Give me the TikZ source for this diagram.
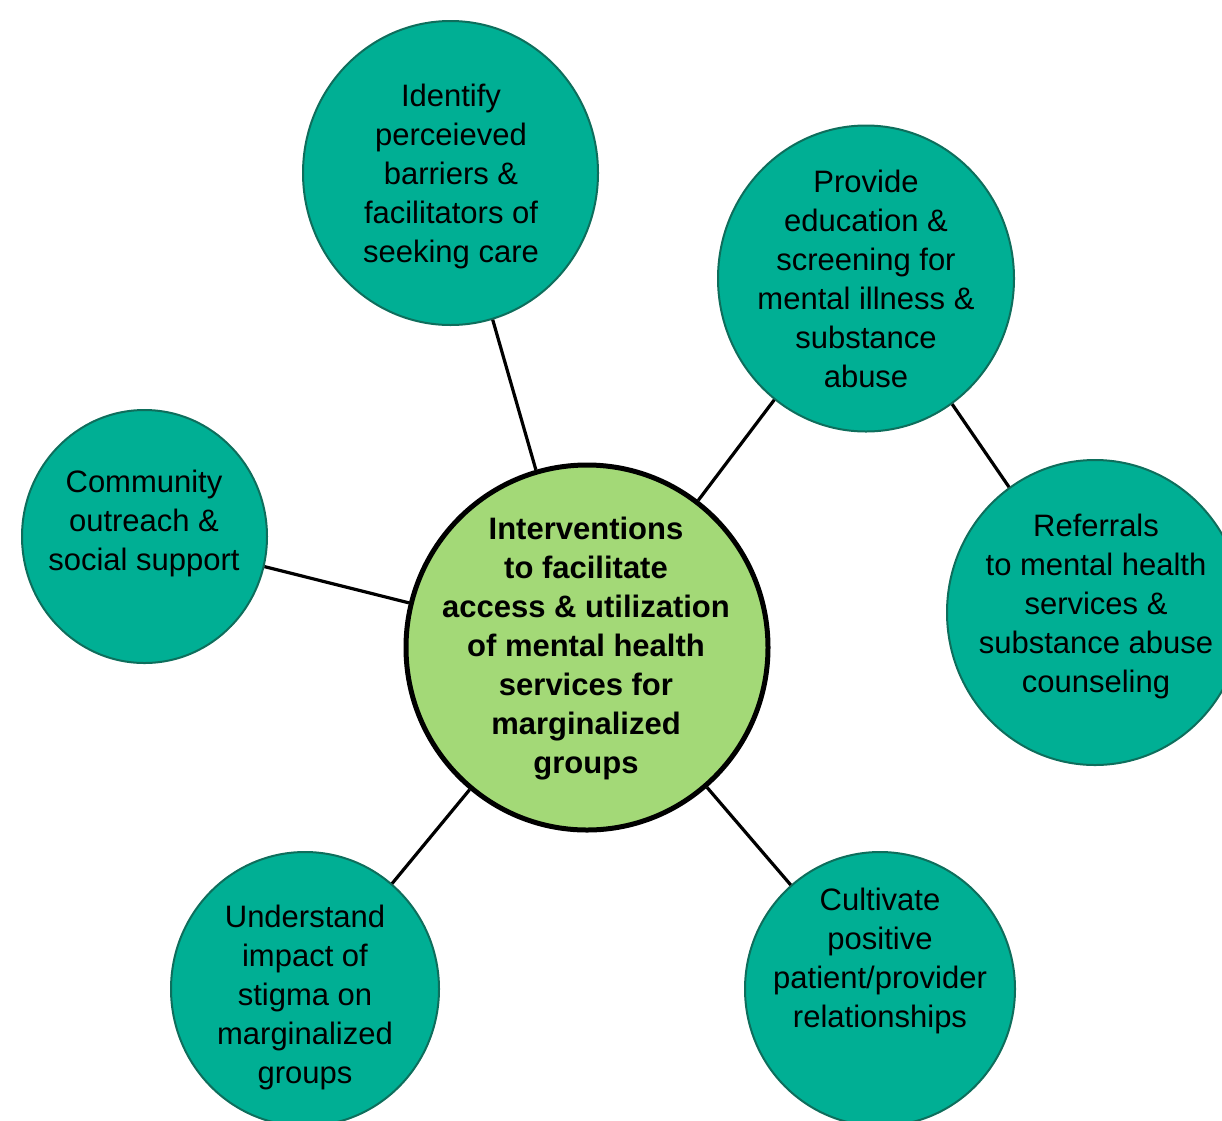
\documentclass[tikz,border=0pt]{standalone}
\usepackage{fontspec}
\setmainfont{Liberation Sans}
\usetikzlibrary{shapes.geometric}
\definecolor{tealfill}{RGB}{0,175,148}
\definecolor{tealedge}{RGB}{14,110,92}
\definecolor{hubfill}{RGB}{163,217,119}
\tikzset{
  bubble/.style={ellipse, draw=tealedge, line width=2pt, fill=tealfill, inner sep=0pt},
  hub/.style={ellipse, draw=black, line width=5pt, fill=hubfill, inner sep=0pt},
  label/.style={align=center, inner sep=0pt, font=\fontsize{31}{39}\selectfont},
  link/.style={draw=black, line width=3.2pt}
}
\begin{document}
\begin{tikzpicture}[x=1pt, y=-1pt]
  \useasboundingbox (0,0) rectangle (1222,1120);
  \clip (0,0) rectangle (1222,1120);

  % circles
  \node[hub, minimum width=362pt, minimum height=365pt] (hub) at (587,647.5) {};
  \node[bubble, minimum width=295pt, minimum height=304pt] (barriers) at (450.5,173) {};
  \node[bubble, minimum width=296pt, minimum height=306pt] (screening) at (866,278.5) {};
  \node[bubble, minimum width=245pt, minimum height=253pt] (outreach) at (144.5,536.5) {};
  \node[bubble, minimum width=296pt, minimum height=305pt] (referrals) at (1095,612.5) {};
  \node[bubble, minimum width=268pt, minimum height=274pt] (stigma) at (305,989) {};
  \node[bubble, minimum width=270pt, minimum height=274pt] (rapport) at (880,989) {};

  % connectors
  \path[link] (barriers) -- (hub);
  \path[link] (screening) -- (hub);
  \path[link] (screening) -- (referrals);
  \path[link] (outreach) -- (hub);
  \path[link] (stigma) -- (hub);
  \path[link] (rapport) -- (hub);

  % texts
  \node[label, font=\fontsize{31}{39}\selectfont\bfseries] (hub-t) at (586,649)
    {Interventions\\to facilitate\\access \& utilization\\of mental health\\services for\\marginalized\\groups};
  \node[label] (barriers-t) at (451,176)
    {Identify\\perceieved\\barriers \&\\facilitators of\\seeking care};
  \node[label] (screening-t) at (866,279)
    {Provide\\education \&\\screening for\\mental illness \&\\substance\\abuse};
  \node[label] (outreach-t) at (144,523)
    {Community\\outreach \&\\social support};
  \node[label] (referrals-t) at (1096,606)
    {Referrals\\to mental health\\services \&\\substance abuse\\counseling};
  \node[label] (stigma-t) at (305,997)
    {Understand\\impact of\\stigma on\\marginalized\\groups};
  \node[label] (rapport-t) at (880,961)
    {Cultivate\\positive\\patient/provider\\relationships};
\end{tikzpicture}
\end{document}
